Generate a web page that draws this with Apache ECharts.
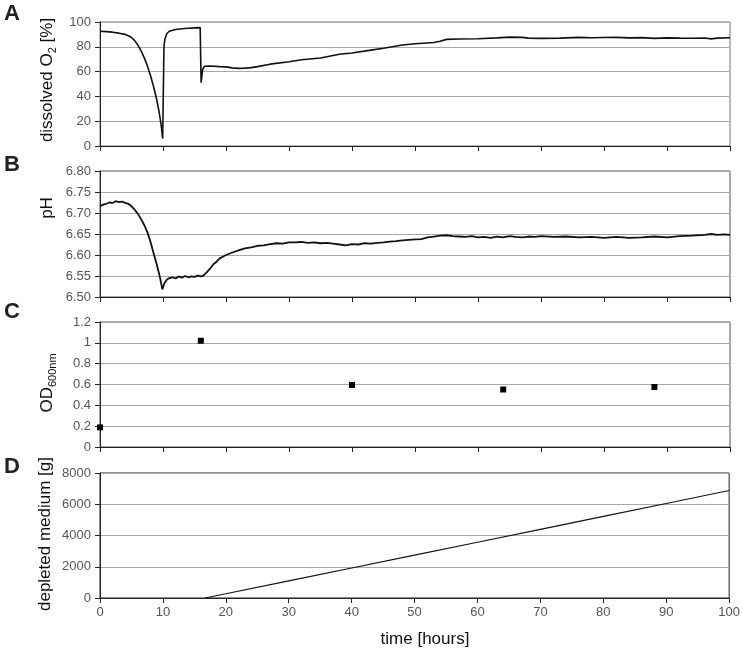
<!DOCTYPE html>
<html>
<head>
<meta charset="utf-8">
<script src="https://cdn.jsdelivr.net/npm/echarts@6/dist/echarts.min.js"></script>
<style>
    body { margin: 0; background: #fff; }
    #chart { width: 743px; height: 653px; }
</style>
</head>
<body>
<div id="chart"></div>
<script>
    // panel A: dissolved O2 [%]
    let o2Time = [0, 1, 2, 3, 4, 4.5, 5, 5.5, 6, 6.5, 7, 7.5, 8, 8.5, 9, 9.4, 9.7, 9.95, 10.15, 10.3, 10.6, 11, 12, 13, 14, 15, 15.9, 16.05, 16.3, 16.6, 17.5, 19, 20, 21, 22, 23, 24, 25, 27, 30, 32, 35, 38, 40, 43, 45, 48, 50, 53, 54, 55, 57, 60, 63, 65, 67, 68, 70, 73, 76, 78, 80, 82, 84, 86, 88, 90, 92, 94, 96, 97, 98, 100];
    let o2Values = [92.5, 92.2, 91.8, 91.0, 90.0, 89.0, 87.5, 85.0, 81.5, 77.0, 71.5, 65.0, 57.0, 48.0, 37.5, 27.0, 17.0, 6.0, 80.0, 86.0, 90.5, 92.5, 94.0, 94.6, 95.0, 95.3, 95.5, 51.0, 62.0, 64.3, 64.5, 64.0, 63.8, 63.0, 62.6, 62.8, 63.2, 64.0, 66.0, 68.0, 69.5, 71.0, 74.0, 75.0, 77.3, 78.8, 81.5, 82.5, 83.5, 84.5, 86.0, 86.3, 86.5, 87.2, 87.8, 87.6, 87.0, 86.8, 87.0, 87.6, 87.3, 87.5, 87.6, 87.2, 87.4, 86.8, 87.2, 87.0, 86.9, 87.1, 86.4, 87.0, 87.3];

    // panel B: pH
    let phTime = [0, 0.5, 1, 1.5, 2, 2.5, 3, 3.5, 4, 4.5, 5, 5.5, 6, 6.5, 7, 7.5, 8, 8.5, 9, 9.5, 9.9, 10.2, 10.6, 11, 11.5, 12, 12.5, 13, 13.5, 14, 14.5, 15, 15.5, 16, 16.4, 17, 17.5, 18, 18.5, 19, 19.5, 20, 21, 22, 23, 24, 25, 26, 27, 28, 29, 30, 31, 32, 33, 34, 35, 36, 37, 38, 39, 40, 41, 42, 43, 44, 45, 46, 47, 48, 49, 50, 51, 52, 53, 54, 55, 56, 57, 58, 59, 60, 61, 62, 63, 64, 65, 66, 67, 68, 69, 70, 72, 74, 76, 78, 80, 82, 84, 86, 88, 90, 92, 94, 96, 97, 98, 99, 100];
    let phValues = [6.716, 6.720, 6.722, 6.725, 6.724, 6.728, 6.726, 6.727, 6.724, 6.722, 6.716, 6.708, 6.698, 6.686, 6.672, 6.655, 6.632, 6.605, 6.578, 6.548, 6.518, 6.532, 6.541, 6.545, 6.547, 6.544, 6.549, 6.546, 6.550, 6.547, 6.549, 6.548, 6.551, 6.549, 6.551, 6.560, 6.568, 6.578, 6.584, 6.592, 6.596, 6.600, 6.606, 6.611, 6.616, 6.618, 6.622, 6.623, 6.626, 6.628, 6.627, 6.630, 6.630, 6.631, 6.629, 6.630, 6.628, 6.629, 6.627, 6.625, 6.623, 6.626, 6.625, 6.628, 6.627, 6.629, 6.630, 6.632, 6.633, 6.635, 6.636, 6.637, 6.638, 6.642, 6.644, 6.646, 6.647, 6.645, 6.644, 6.643, 6.645, 6.642, 6.643, 6.641, 6.644, 6.642, 6.645, 6.643, 6.642, 6.644, 6.643, 6.645, 6.643, 6.644, 6.642, 6.643, 6.641, 6.643, 6.641, 6.642, 6.644, 6.642, 6.645, 6.646, 6.648, 6.650, 6.648, 6.649, 6.648];

    // panel C: OD600nm samples
    let odTime = [0, 16, 40, 64, 88];
    let odValues = [0.188, 1.02, 0.595, 0.552, 0.576];

    // panel D: depleted medium [g]
    let mediumTime = [16.7, 20, 30, 40, 50, 60, 70, 80, 90, 100];
    let mediumValues = [0, 270, 1100, 1920, 2740, 3570, 4390, 5220, 6050, 6880];

    let timeTicks = {min: 0, max: 100, interval: 10};

    let font = "'Liberation Sans', Arial, sans-serif";

    function zip(xs, ys) {
        return xs.map((x, i) => [x, ys[i]]);
    }

    function makeGrid(top, height, border) {
        return {
            left: 100, width: 630, top: top, height: height,
            show: true, borderColor: border, borderWidth: 1, backgroundColor: "transparent"
        };
    }

    function makeX(idx, showLabels) {
        return {
            type: "value", gridIndex: idx,
            min: timeTicks.min, max: timeTicks.max, interval: timeTicks.interval,
            axisLine: {show: true, onZero: false, lineStyle: {color: "#222", width: 1}},
            axisTick: {show: true, inside: false, length: 5, lineStyle: {color: "#222"}},
            axisLabel: {show: showLabels, color: "#555", fontSize: 13, fontFamily: font, margin: 8},
            splitLine: {show: false}
        };
    }

    function makeY(idx, min, max, interval, fmt) {
        return {
            type: "value", gridIndex: idx,
            min: min, max: max, interval: interval,
            axisLine: {show: true, lineStyle: {color: "#222", width: 1}},
            axisTick: {show: true, inside: false, length: 5, lineStyle: {color: "#222"}},
            axisLabel: {color: "#555", fontSize: 13, fontFamily: font, margin: 9, formatter: fmt},
            splitLine: {show: true, lineStyle: {color: "#a8a8a8", width: 1}}
        };
    }

    function sideText(x, y, text, rich) {
        return {
            type: "text", x: x, y: y, rotation: Math.PI / 2,
            style: {
                text: text, fill: "#111", font: "17px " + font,
                align: "center", verticalAlign: "middle", rich: rich
            }
        };
    }

    function letter(x, y, ch) {
        return {
            type: "text", x: x, y: y,
            style: {text: ch, fill: "#222", font: "bold 22px " + font, align: "center", verticalAlign: "middle"}
        };
    }

    let chart = echarts.init(document.getElementById("chart"), null, {renderer: "canvas"});

    let subRich = {
        a: {fontSize: 17, fontFamily: font, color: "#111", lineHeight: 22},
        s: {fontSize: 11, fontFamily: font, color: "#111", lineHeight: 11, verticalAlign: "bottom"}
    };

    let option = {
        animation: false,
        backgroundColor: "#fff",
        grid: [
            makeGrid(22, 124, "#777"),
            makeGrid(171, 126, "#555"),
            makeGrid(322, 125, "#555"),
            makeGrid(473, 125, "#222")
        ],
        xAxis: [makeX(0, false), makeX(1, false), makeX(2, false), makeX(3, true)],
        yAxis: [
            makeY(0, 0, 100, 20),
            makeY(1, 6.5, 6.8, 0.05, (v) => v.toFixed(2)),
            makeY(2, 0, 1.2, 0.2, (v) => String(Math.round(v * 10) / 10)),
            makeY(3, 0, 8000, 2000, (v) => String(v))
        ],
        series: [
            {
                type: "line", xAxisIndex: 0, yAxisIndex: 0, data: zip(o2Time, o2Values),
                showSymbol: false, lineStyle: {color: "#111", width: 1.6}
            },
            {
                type: "line", xAxisIndex: 1, yAxisIndex: 1, data: zip(phTime, phValues),
                showSymbol: false, lineStyle: {color: "#111", width: 1.8}
            },
            {
                type: "scatter", xAxisIndex: 2, yAxisIndex: 2, data: zip(odTime, odValues),
                symbol: "rect", symbolSize: 6, itemStyle: {color: "#000", opacity: 1}
            },
            {
                type: "line", xAxisIndex: 3, yAxisIndex: 3, data: zip(mediumTime, mediumValues),
                showSymbol: false, lineStyle: {color: "#111", width: 1.2}
            }
        ],
        graphic: [
            letter(12, 14, "A"),
            letter(12, 165, "B"),
            letter(12, 312, "C"),
            letter(12, 467, "D"),
            sideText(47, 80, "{a|dissolved O}{s|2}{a| [%]}", subRich),
            sideText(47, 208, "pH"),
            sideText(47, 383, "{a|OD}{s|600nm}", subRich),
            sideText(45, 534, "depleted medium [g]"),
            {
                type: "text", x: 425, y: 639,
                style: {text: "time [hours]", fill: "#111", font: "17px " + font, align: "center", verticalAlign: "middle"}
            }
        ]
    };

    chart.setOption(option);
</script>
</body>
</html>
